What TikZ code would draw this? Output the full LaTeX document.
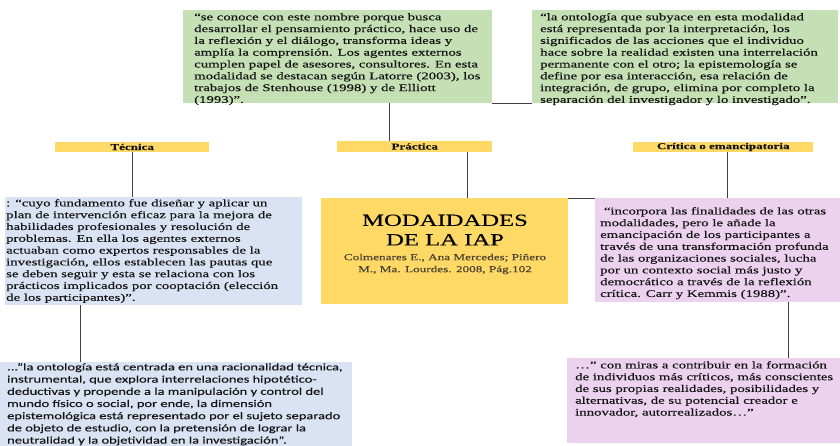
\documentclass[tikz,border=0pt]{standalone}
\usepackage{fontspec}
\setmainfont{Liberation Serif}[FakeStretch=1.45,FakeBold=0.3]
\newfontfamily\calib{Carlito}[FakeStretch=1.42,FakeBold=0.2]
\definecolor{grn}{HTML}{C5E0B4}
\definecolor{gold}{HTML}{FFD966}
\definecolor{blu}{HTML}{DAE3F3}
\definecolor{pnk}{HTML}{EDD2F0}
\definecolor{lin}{HTML}{404040}
\definecolor{citec}{HTML}{4A4030}
\definecolor{ink}{HTML}{141414}
\begin{document}
\begin{tikzpicture}[x=1pt,y=-1pt,
  box/.style={draw=none, inner sep=0pt, anchor=north west},
  txt/.style={anchor=north west, inner sep=0pt, align=left, text=ink, font=\fontsize{10.2}{11.8}\selectfont},
  stxt/.style={anchor=north west, inner sep=0pt, align=left, text=ink, font=\calib\fontsize{10.2}{12.2}\selectfont},
  bar/.style={fill=gold, inner sep=0pt, anchor=north west, text=ink, minimum height=10.5pt, font=\fontsize{9}{10}\selectfont\bfseries},
  conn/.style={draw=lin, line width=0.8pt}]
\useasboundingbox (0,0) rectangle (840,446);
% boxes
\node[box, fill=grn, minimum width=309pt, minimum height=93pt] (g1) at (183,10) {};
\node[box, fill=grn, minimum width=306pt, minimum height=93pt] (g2) at (532,10) {};
\node[bar, minimum width=154pt] (tec) at (55,141.5) {Técnica};
\node[bar, minimum width=155pt] (pra) at (337,141) {Práctica};
\node[bar, minimum width=180pt] (cri) at (633,141.5) {Crítica o emancipatoria};
\node[box, fill=blu, minimum width=297pt, minimum height=108pt] (b1) at (5,197) {};
\node[box, fill=gold, minimum width=247pt, minimum height=106pt] (mod) at (321,198) {};
\node[box, fill=pnk, minimum width=245pt, minimum height=104pt] (p1) at (595,198) {};
\node[box, fill=blu, minimum width=352pt, minimum height=84pt] (b2) at (0,362) {};
\node[box, fill=pnk, minimum width=273pt, minimum height=85pt] (p2) at (567,358) {};
% connectors
\draw[conn] (g1.south east) -- (g2.south west);
\draw[conn] ([xshift=52pt]pra.north west) -- ([xshift=52pt]pra.north west |- g1.south);
\draw[conn] ([xshift=-25pt]pra.south east) -- ([xshift=-25pt]pra.south east |- mod.north);
\draw[conn] (tec.south) -- (tec.south |- b1.north);
\draw[conn] ([xshift=4pt]cri.south) -- ([xshift=4pt]cri.south |- p1.north);
\draw[conn] (mod.north east) -- (p1.north west);
\draw[conn] ([xshift=75pt]b1.south west) -- ([xshift=75pt]b1.south west |- b2.north);
\draw[conn] ([xshift=-52pt]p1.south east) -- ([xshift=-52pt]p1.south east |- p2.north);
% texts
\node[txt] (tg1) at (194,13) {“se conoce con este nombre porque busca\\
desarrollar el pensamiento práctico, hace uso de\\
la reflexión y el diálogo, transforma ideas y\\
amplía la comprensión. Los agentes externos\\
cumplen papel de asesores, consultores. En esta\\
modalidad se destacan según Latorre (2003), los\\
trabajos de Stenhouse (1998) y de Elliott\\
(1993)”.};
\node[txt] (tg2) at (540,13) {“la ontología que subyace en esta modalidad\\
está representada por la interpretación, los\\
significados de las acciones que el individuo\\
hace sobre la realidad existen una interrelación\\
permanente con el otro; la epistemología se\\
define por esa interacción, esa relación de\\
integración, de grupo, elimina por completo la\\
separación del investigador y lo investigado”.};
\node[txt] (tb1) at (6,199) {: “cuyo fundamento fue diseñar y aplicar un\\
plan de intervención eficaz para la mejora de\\
habilidades profesionales y resolución de\\
problemas. En ella los agentes externos\\
actuaban como expertos responsables de la\\
investigación, ellos establecen las pautas que\\
se deben seguir y esta se relaciona con los\\
prácticos implicados por cooptación (elección\\
de los participantes)”.};
\node[inner sep=0pt, align=center, text=black, font=\fontsize{17}{19.5}\selectfont] (ttl) at (445,230) {MODAIDADES\\DE LA IAP};
\node[inner sep=0pt, align=center, text=citec, font=\fontsize{9.1}{12}\selectfont] (cit) at (445,264) {Colmenares E., Ana Mercedes; Piñero\\M., Ma. Lourdes. 2008, Pág.102};
\node[txt] (tp1) at (600,207) {\ “incorpora las finalidades de las otras\\
modalidades, pero le añade la\\
emancipación de los participantes a\\
través de una transformación profunda\\
de las organizaciones sociales, lucha\\
por un contexto social más justo y\\
democrático a través de la reflexión\\
crítica. Carr y Kemmis (1988)”.};
\node[stxt] (tb2) at (7,363) {...”la ontología está centrada en una racionalidad técnica,\\
instrumental, que explora interrelaciones hipotético-\\
deductivas y propende a la manipulación y control del\\
mundo físico o social, por ende, la dimensión\\
epistemológica está representado por el sujeto separado\\
de objeto de estudio, con la pretensión de lograr la\\
neutralidad y la objetividad en la investigación”.};
\node[txt] (tp2) at (575,361) {…” con miras a contribuir en la formación\\
de individuos más críticos, más conscientes\\
de sus propias realidades, posibilidades y\\
alternativas, de su potencial creador e\\
innovador, autorrealizados…”};
\end{tikzpicture}
\end{document}
